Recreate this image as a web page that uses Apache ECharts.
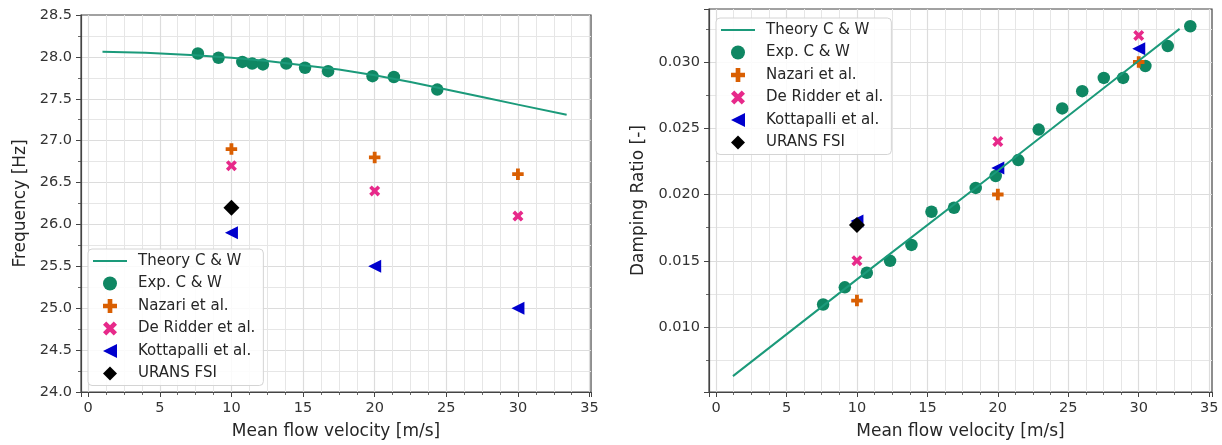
<!DOCTYPE html>
<html><head><meta charset="utf-8">
<script src="https://cdn.jsdelivr.net/npm/echarts@6/dist/echarts.min.js"></script>
<style>html,body{margin:0;padding:0;background:#fff}#c{width:1222px;height:445px}</style>
</head><body><div id="c"></div>
<script>
const seriesNames = ['Theory C & W','Exp. C & W','Nazari et al.','De Ridder et al.','Kottapalli et al.','URANS FSI'];
// Left panel: frequency [Hz] vs mean flow velocity [m/s]
const freqTheory = [[1.0,28.06],[4,28.05],[7.5,28.02],[10,27.99],[12.5,27.95],[15,27.9],[17.5,27.85],[20,27.78],[22.5,27.7],[25,27.61],[27.5,27.52],[30,27.43],[33.4,27.31]];
const freqExp = [[7.66,28.04],[9.1,27.99],[10.76,27.94],[11.45,27.92],[12.2,27.91],[13.83,27.92],[15.14,27.87],[16.75,27.83],[19.85,27.77],[21.34,27.76],[24.37,27.61]];
const freqNazari = [[10,26.9],[20,26.8],[30,26.6]];
const freqDeRidder = [[10,26.7],[20,26.4],[30,26.1]];
const freqKottapalli = [[10,25.9],[20,25.5],[30,25.0]];
const freqUrans = [[10,26.2]];
// Right panel: damping ratio [-] vs mean flow velocity [m/s]
const dampTheory = [[1.2,0.0063],[10,0.0136],[20,0.0218],[30,0.0301],[32.9,0.0325]];
const dampExp = [[7.6,0.0117],[9.14,0.0130],[10.7,0.0141],[12.35,0.0150],[13.87,0.0162],[15.29,0.0187],[16.89,0.0190],[18.43,0.0205],[19.85,0.0214],[21.45,0.0226],[22.9,0.0249],[24.57,0.0265],[25.99,0.0278],[27.52,0.0288],[28.89,0.0288],[30.47,0.0297],[32.06,0.0312],[33.66,0.0327]];
const dampNazari = [[10,0.012],[20,0.020],[30,0.030]];
const dampDeRidder = [[10,0.015],[20,0.024],[30,0.032]];
const dampKottapalli = [[10,0.018],[20,0.022],[30,0.031]];
const dampUrans = [[10,0.0177]];

const xTitle = 'Mean flow velocity [m/s]';
const yTitles = ['Frequency [Hz]','Damping Ratio [-]'];

const FONT = 'DejaVu Sans';
const TXT = '#262626';
const AX = '#444';
const SYM = {
  plus:'path://M4,0H8V4H12V8H8V12H4V8H0V4H4Z',
  cross:'path://M2.8,0L6,3.2L9.2,0L12,2.8L8.8,6L12,9.2L9.2,12L6,8.8L2.8,12L0,9.2L3.2,6L0,2.8Z',
  triLeft:'path://M0,1L2,0L2,2Z',
  diamond:'path://M1,0L2,1L1,2L0,1Z',
  line:'path://M0,0H34V2.2H0Z'
};
const COLORS = {theory:'#1b9a7a', exp:'#0f8763', nazari:'#d95f02', deridder:'#e7298a', kotta:'#0000cd', urans:'#000000'};

function commonAxis() {
  return {
    type:'value', nameLocation:'middle',
    nameTextStyle:{fontFamily:FONT,fontSize:17,color:TXT},
    axisLine:{show:true,onZero:false,lineStyle:{color:AX,width:1.2}},
    axisTick:{show:true,inside:false,length:5,lineStyle:{color:AX,width:1}},
    splitLine:{show:true,showMinLine:false,showMaxLine:false,lineStyle:{color:'#dcdcdc',width:1.2}},
    minorSplitLine:{show:true,lineStyle:{color:'#e6e6e6',width:1}}
  };
}
function xAxisCfg(gridIndex, min, max) {
  return Object.assign(commonAxis(), {
    gridIndex, min, max, splitNumber:7, name:xTitle, nameGap:31,
    minorTick:{show:true,splitNumber:4,length:3,lineStyle:{color:AX,width:0.8}},
    axisLabel:{showMinLabel:false,showMaxLabel:false,margin:9,fontFamily:FONT,fontSize:14.5,color:'#333',
      formatter:v=>String(Math.round(v))}
  });
}
function yAxisCfg(gridIndex, cfg) {
  return Object.assign(commonAxis(), {
    gridIndex, name:yTitles[gridIndex],
    minorTick:{show:true,splitNumber:2,length:3,lineStyle:{color:AX,width:0.8}}
  }, cfg);
}
function legendCfg(left, top) {
  return {
    orient:'vertical', left, top, selectedMode:false,
    data:[
      {name:seriesNames[0], icon:SYM.line},
      {name:seriesNames[1], icon:'circle'},
      {name:seriesNames[2], icon:SYM.plus},
      {name:seriesNames[3], icon:SYM.cross},
      {name:seriesNames[4], icon:SYM.triLeft},
      {name:seriesNames[5], icon:SYM.diamond}
    ],
    itemWidth:34, itemHeight:14, itemGap:4.5, padding:[3,8,3,5], symbolKeepAspect:true,
    backgroundColor:'rgba(255,255,255,0.85)', borderColor:'#d4d4d4', borderWidth:1, borderRadius:4,
    textStyle:{fontFamily:FONT,fontSize:15,color:TXT,lineHeight:18,padding:[0,0,0,6]}
  };
}
function panelSeries(idx, theory, exp, naz, der, kot, ur) {
  const base = {xAxisIndex:idx, yAxisIndex:idx};
  return [
    Object.assign({type:'line', name:seriesNames[0], data:theory, showSymbol:false, symbol:'none',
      lineStyle:{color:COLORS.theory,width:2}, itemStyle:{color:COLORS.theory}}, base),
    Object.assign({type:'scatter', name:seriesNames[1], data:exp, symbol:'circle', symbolSize:12.5,
      itemStyle:{color:COLORS.exp, opacity:1}}, base),
    Object.assign({type:'scatter', name:seriesNames[2], data:naz, symbol:SYM.plus, symbolSize:11.5,
      itemStyle:{color:COLORS.nazari, opacity:1}}, base),
    Object.assign({type:'scatter', name:seriesNames[3], data:der, symbol:SYM.cross, symbolSize:11,
      itemStyle:{color:COLORS.deridder, opacity:1}}, base),
    Object.assign({type:'scatter', name:seriesNames[4], data:kot, symbol:SYM.triLeft, symbolSize:13,
      itemStyle:{color:COLORS.kotta, opacity:1}}, base),
    Object.assign({type:'scatter', name:seriesNames[5], data:ur, symbol:SYM.diamond, symbolSize:16,
      itemStyle:{color:COLORS.urans, opacity:1}}, base)
  ];
}

const chart = echarts.init(document.getElementById('c'), null, {renderer:'canvas'});
chart.setOption({
  animation:false,
  backgroundColor:'#ffffff',
  grid:[
    {left:81, top:15, width:510, height:378, show:true, borderColor:AX, borderWidth:1.2, backgroundColor:'#fff'},
    {left:709, top:9, width:503, height:384, show:true, borderColor:AX, borderWidth:1.2, backgroundColor:'#fff'}
  ],
  xAxis:[ xAxisCfg(0,-0.5,35.1), xAxisCfg(1,-0.5,35.2) ],
  yAxis:[
    yAxisCfg(0,{min:24,max:28.5,interval:0.5,nameGap:52,
      axisLabel:{margin:9,fontFamily:FONT,fontSize:14.5,color:'#333',formatter:v=>v.toFixed(1)}}),
    yAxisCfg(1,{min:0.0051,max:0.034,splitNumber:6,nameGap:62,
      axisLabel:{showMinLabel:false,showMaxLabel:false,margin:9,fontFamily:FONT,fontSize:14.5,color:'#333',formatter:v=>v.toFixed(3)}})
  ],
  legend:[ legendCfg(88,249), legendCfg(716,18) ],
  series:[].concat(
    panelSeries(0, freqTheory, freqExp, freqNazari, freqDeRidder, freqKottapalli, freqUrans),
    panelSeries(1, dampTheory, dampExp, dampNazari, dampDeRidder, dampKottapalli, dampUrans)
  )
});
</script>
</body></html>
